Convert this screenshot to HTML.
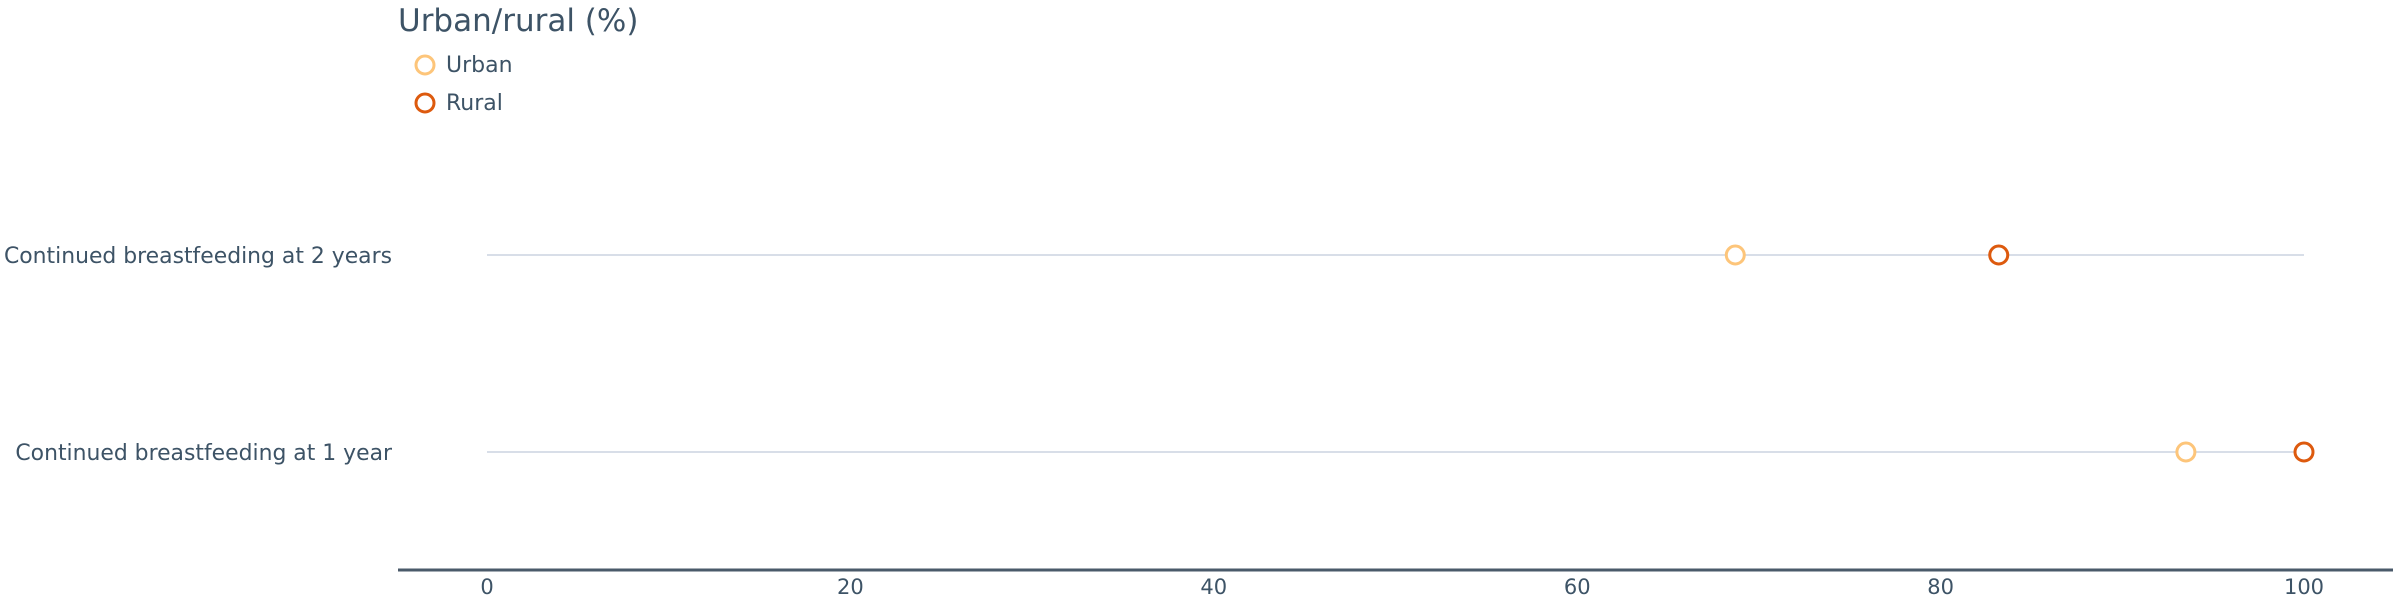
<!DOCTYPE html>
<html><head><meta charset="utf-8"><style>
html,body{margin:0;padding:0;background:#fff;}
svg{display:block;font-family:"DejaVu Sans","Liberation Sans",sans-serif;}
</style></head><body>
<svg id="chart" width="2400" height="600" viewBox="0 0 2400 600" xmlns="http://www.w3.org/2000/svg">
<text x="398" y="31" font-size="31" fill="#3d5366">Urban/rural (%)</text>
<g>
<g><circle cx="425" cy="65" r="9" fill="none" stroke="#fdc57a" stroke-width="3"/><text x="446" y="72" font-size="22" fill="#3d5366">Urban</text></g>
<g><circle cx="425" cy="103" r="9" fill="none" stroke="#dd5a0e" stroke-width="3"/><text x="446" y="110" font-size="22" fill="#3d5366">Rural</text></g>
</g>
<g id="plot"></g>
<line x1="398" y1="570" x2="2393" y2="570" stroke="#4a5a6a" stroke-width="3"/>
<g id="ticks"></g>
</svg>
<script>
const categories = ["Continued breastfeeding at 2 years", "Continued breastfeeding at 1 year"];
const urbanValues = [68.7, 93.5];
const ruralValues = [83.2, 100];
const tickValues = [0, 20, 40, 60, 80, 100];
const tickLabels = ["0", "20", "40", "60", "80", "100"];

const NS = "http://www.w3.org/2000/svg";
const x0 = 487, x1 = 2304;
function xScale(v){ return x0 + (x1 - x0) * v / 100; }
function yScale(i){ return 255 + i * 197; }
const plot = document.getElementById('plot');
const ticks = document.getElementById('ticks');
function mk(tag, attrs, parent){
  const e = document.createElementNS(NS, tag);
  for (const k in attrs) e.setAttribute(k, attrs[k]);
  parent.appendChild(e);
  return e;
}
categories.forEach((c, i) => {
  const y = yScale(i);
  const lab = mk('text', {x: 392, y: y + 8, 'font-size': 21.9, 'text-anchor': 'end', fill: '#3d5366'}, plot);
  
  
  lab.textContent = c;
  const ln = mk('line', {x1: xScale(0), x2: xScale(100), y1: y, y2: y, stroke: '#d8dee8', 'stroke-width': 2}, plot);
  
  
  const u = mk('circle', {cx: xScale(urbanValues[i]), cy: y, r: 9, fill: '#fff', stroke: '#fdc57a', 'stroke-width': 3}, plot);
  
  
  const r = mk('circle', {cx: xScale(ruralValues[i]), cy: y, r: 9, fill: '#fff', stroke: '#dd5a0e', 'stroke-width': 3}, plot);
  
  
});
tickValues.forEach((v, i) => {
  const t = mk('text', {x: xScale(v), y: 594, 'font-size': 21, 'text-anchor': 'middle', fill: '#3d5366'}, ticks);
  
  
  t.textContent = tickLabels[i];
});
</script>
</body></html>
